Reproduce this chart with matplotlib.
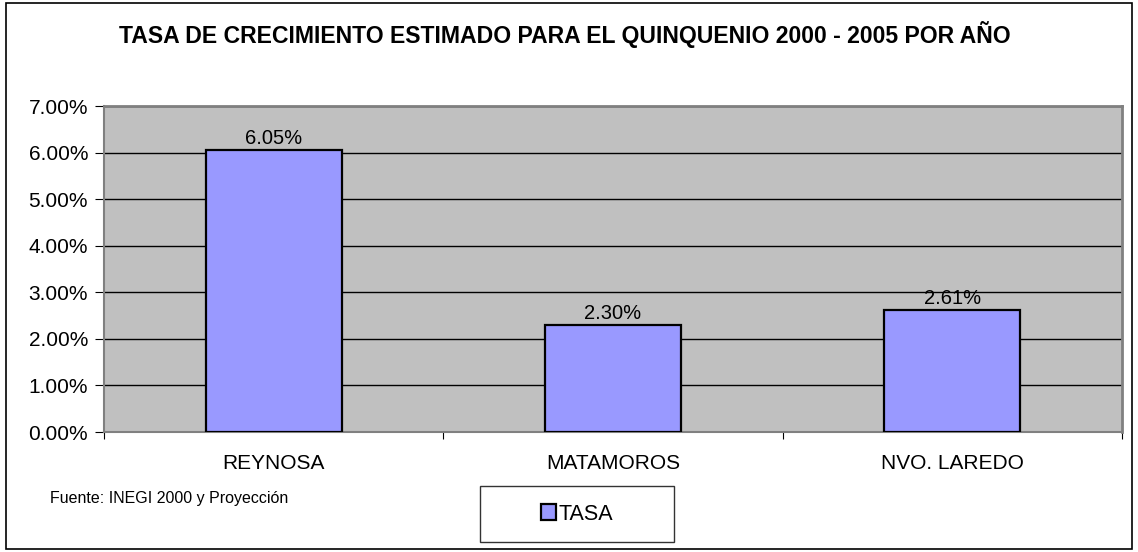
import matplotlib.pyplot as plt
import matplotlib.ticker as ticker
from matplotlib.patches import Rectangle

# datos
CIUDADES = ['REYNOSA', 'MATAMOROS', 'NVO. LAREDO']
TASA = [6.05, 2.30, 2.61]
ETIQUETAS = ['6.05%', '2.30%', '2.61%']

TITULO = 'TASA DE CRECIMIENTO ESTIMADO PARA EL QUINQUENIO 2000 - 2005 POR AÑO'
FUENTE = 'Fuente: INEGI 2000 y Proyección'

plt.rcParams['font.family'] = ['Liberation Sans', 'DejaVu Sans']

fig = plt.figure(figsize=(11.38, 5.52), dpi=100)
ax = fig.add_axes([104 / 1138, 1 - 432 / 552, (1122 - 104) / 1138, (432 - 106) / 552])

# marco exterior
fig.patches.append(Rectangle((6 / 1138, 3 / 552), 1 - 12 / 1138, 1 - 6 / 552,
                             transform=fig.transFigure, fill=False,
                             edgecolor='black', linewidth=1.2))

ax.set_facecolor('#C0C0C0')
x = range(len(CIUDADES))
bars = ax.bar(x, TASA, width=0.4, color='#9999FF', edgecolor='black', linewidth=1.6, zorder=3)

for b, lab in zip(bars, ETIQUETAS):
    ax.text(b.get_x() + b.get_width() / 2, b.get_height() + 0.05, lab,
            ha='center', va='bottom', fontsize=14.5)

ax.set_xlim(-0.5, 2.5)
ax.set_ylim(0, 7)
ax.yaxis.set_major_locator(ticker.MultipleLocator(1))
ax.yaxis.set_major_formatter(ticker.FuncFormatter(lambda v, p: f'{v:.2f}%'))
ax.grid(axis='y', color='black', linewidth=1, zorder=1)

ax.set_xticks([-0.5, 0.5, 1.5, 2.5])
ax.set_xticklabels([])
ax.set_xticks(list(x), minor=True)
ax.set_xticklabels(CIUDADES, minor=True)
ax.tick_params(axis='x', which='minor', length=0, pad=16, labelsize=15)
ax.tick_params(axis='x', which='major', length=5, direction='out')
ax.tick_params(axis='y', length=6.5, direction='out', labelsize=15, pad=5)

for s in ['top', 'right']:
    ax.spines[s].set_color('#808080')
    ax.spines[s].set_linewidth(2)
ax.spines['left'].set_color('#808080')
ax.spines['bottom'].set_color('#808080')
ax.spines['left'].set_linewidth(1.5)
ax.spines['bottom'].set_linewidth(1.5)

fig.text(565 / 1138, 1 - 34 / 552, TITULO, ha='center', va='center',
         fontsize=16.6, fontweight='bold')
fig.text(50 / 1138, 1 - 499 / 552, FUENTE, ha='left', va='center', fontsize=11.5)

leg = fig.legend([bars[0]], ['TASA'], loc='center', bbox_to_anchor=(577 / 1138, 1 - 514 / 552),
                 fontsize=15.5, frameon=True, fancybox=False, edgecolor='black',
                 handlelength=0.7, handleheight=0.7, handletextpad=0.15,
                 borderpad=0.8, borderaxespad=0)
leg.get_frame().set_linewidth(1)
leg.get_frame().set_boxstyle('square', pad=0)
leg._legend_box.width = 160

fig.savefig('out.png', dpi=100)
